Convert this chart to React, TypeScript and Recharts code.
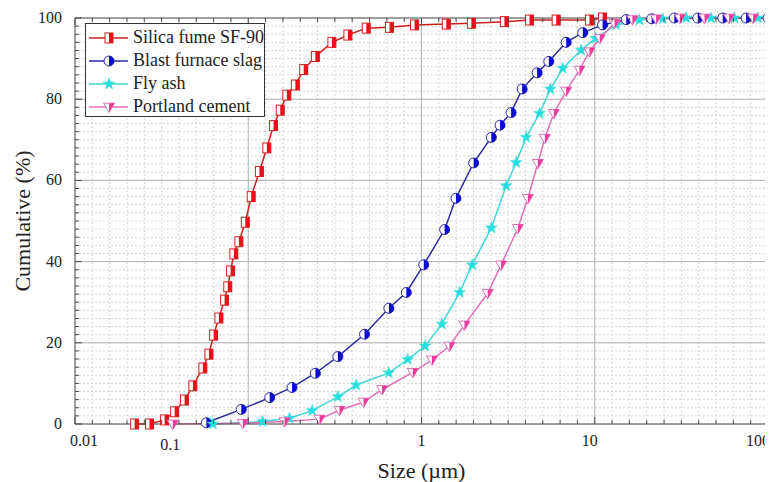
import React from 'react';
import { LineChart, Line, XAxis, YAxis, CartesianGrid, ReferenceLine } from 'recharts';

// Silica fume SF-90
const sfSize = [0.0221, 0.0269, 0.0329, 0.0376, 0.0429, 0.0479, 0.0547, 0.0593, 0.0631, 0.0677, 0.073, 0.0762, 0.0791, 0.0826, 0.0883, 0.0962, 0.104, 0.116, 0.128, 0.14, 0.153, 0.167, 0.187, 0.209, 0.244, 0.304, 0.376, 0.48, 0.654, 0.912, 1.39, 1.94, 3.01, 4.2, 5.99, 9.32, 11.1];
const sfCum = [0, 0, 1.0, 3.0, 5.9, 9.4, 13.8, 17.2, 21.9, 26.1, 30.5, 33.8, 37.7, 41.9, 44.9, 49.7, 56.0, 62.2, 68.0, 73.5, 77.3, 81.0, 83.5, 87.3, 90.5, 94.0, 95.8, 97.5, 97.7, 98.3, 98.5, 98.7, 99.1, 99.5, 99.5, 99.5, 100];

// Blast furnace slag
const slagSize = [0.0573, 0.0911, 0.133, 0.179, 0.244, 0.329, 0.469, 0.648, 0.817, 1.03, 1.36, 1.58, 2.0, 2.53, 2.84, 3.29, 3.81, 4.65, 5.43, 6.84, 8.53, 11.1, 15.2, 21.3, 28.8, 39.3, 54.8, 74.8, 100];
const slagCum = [0.3, 3.6, 6.5, 9.0, 12.5, 16.6, 22.1, 28.5, 32.4, 39.2, 47.9, 55.6, 64.3, 70.6, 73.6, 76.7, 82.5, 86.5, 89.3, 94.0, 96.4, 98.3, 99.6, 99.8, 100, 100, 100, 100, 100];

// Fly ash
const flySize = [0.0625, 0.121, 0.173, 0.234, 0.329, 0.42, 0.648, 0.834, 1.05, 1.31, 1.66, 1.96, 2.53, 3.08, 3.52, 4.02, 4.8, 5.55, 6.53, 8.34, 10.1, 13.3, 18.1, 24.7, 33.7, 46.9, 64.0, 87.3];
const flyCum = [0, 0.6, 1.4, 3.3, 6.7, 9.6, 12.6, 15.9, 19.2, 24.6, 32.4, 39.2, 48.3, 58.7, 64.4, 70.6, 76.5, 82.5, 87.6, 92.1, 95.0, 98.3, 99.5, 99.8, 100, 100, 100, 100];

// Portland cement
const pcSize = [0.0367, 0.0931, 0.162, 0.258, 0.336, 0.463, 0.592, 0.891, 1.15, 1.45, 1.77, 2.41, 2.88, 3.6, 4.11, 4.69, 5.15, 5.8, 6.84, 8.16, 9.32, 10.7, 13.0, 16.5, 22.6, 31.0, 43.0, 59.5, 82.0];
const pcCum = [0, 0.2, 0.6, 1.2, 3.4, 5.4, 8.5, 12.7, 15.8, 19.2, 24.4, 32.2, 39.2, 48.2, 55.6, 64.2, 70.4, 76.5, 82.0, 87.2, 91.7, 95.0, 98.7, 99.6, 99.8, 100, 100, 100, 100];

const xMajor = [0.01, 0.1, 1, 10, 100];
const xLabels = ['0.01', '0.1', '1', '10', '100'];
const yMajor = [0, 20, 40, 60, 80, 100];

// minor ticks sit at even spacing inside each decade, like the original plot
const xTicks: number[] = [];
xMajor.forEach((m, i) => {
  xTicks.push(m);
  if (i < xMajor.length - 1) {
    for (let k = 1; k < 10; k++) xTicks.push(Math.pow(10, Math.log10(m) + k / 10));
  }
});
const yTicks = Array.from({ length: 51 }, (_, i) => i * 2);

const rows = (size: number[], cum: number[]) => size.map((s, i) => ({ size: s, cum: cum[i] }));

const FONT = '"Liberation Serif", "DejaVu Serif", serif';
const FRAME = '#4a4a4a';
const TEXT = '#222';

type Kind = 'square' | 'circle' | 'star' | 'tri';

const series = [
  { name: 'Silica fume SF-90', data: rows(sfSize, sfCum), line: '#cc2020', fill: '#e8101a', kind: 'square' as Kind },
  { name: 'Blast furnace slag', data: rows(slagSize, slagCum), line: '#2a2a9e', fill: '#0a0ad2', kind: 'circle' as Kind },
  { name: 'Fly ash', data: rows(flySize, flyCum), line: '#3fd6d6', fill: '#22e0e0', kind: 'star' as Kind },
  { name: 'Portland cement', data: rows(pcSize, pcCum), line: '#e070b4', fill: '#ec3c9c', kind: 'tri' as Kind },
];

function marker(kind: Kind, cx: number, cy: number, line: string, fill: string, key?: any) {
  if (kind === 'square') {
    const w = 8, h = 10;
    return (
      <g key={key}>
        <rect x={cx - w / 2} y={cy - h / 2} width={w} height={h} fill="#fff" stroke={line} strokeWidth={1} />
        <rect x={cx} y={cy - h / 2} width={w / 2} height={h} fill={fill} />
      </g>
    );
  }
  if (kind === 'circle') {
    const r = 5;
    return (
      <g key={key}>
        <circle cx={cx} cy={cy} r={r} fill="#fff" stroke={line} strokeWidth={1} />
        <path d={`M${cx},${cy - r} A${r},${r} 0 0 1 ${cx},${cy + r} Z`} fill={fill} />
      </g>
    );
  }
  if (kind === 'star') {
    const pts: string[] = [];
    for (let i = 0; i < 10; i++) {
      const r = i % 2 === 0 ? 6 : 2.4;
      const a = -Math.PI / 2 + (i * Math.PI) / 5;
      pts.push(`${cx + r * Math.cos(a)},${cy + r * Math.sin(a)}`);
    }
    return <polygon key={key} points={pts.join(' ')} fill={fill} stroke={line} strokeWidth={0.6} />;
  }
  const s = 5.5;
  return (
    <g key={key}>
      <polygon
        points={`${cx - s},${cy - s * 0.7} ${cx + s},${cy - s * 0.7} ${cx},${cy + s}`}
        fill="#fff" stroke={line} strokeWidth={1}
      />
      <polygon points={`${cx},${cy - s * 0.7} ${cx + s},${cy - s * 0.7} ${cx},${cy + s}`} fill={fill} />
    </g>
  );
}

const dotFor = (kind: Kind, line: string, fill: string) => (p: any) => {
  if (p.cx == null || p.cy == null) return <g key={p.index} />;
  return marker(kind, p.cx, p.cy, line, fill, p.index);
};

const isMajor = (v: number) => xMajor.findIndex(m => Math.abs(m - v) / m < 1e-6);

// the reference prints several labels off their ticks
const labelShift: Record<string, [number, number]> = {
  '0.01': [9, 0], '0.1': [-78, 4], '10': [-5, 0], '100': [-10, 0],
};

const BottomTick = ({ x, y, payload }: any) => {
  const idx = isMajor(payload.value);
  const label = idx >= 0 ? xLabels[idx] : null;
  const [dx, dy] = label && labelShift[label] ? labelShift[label] : [0, 0];
  return (
    <g>
      <line x1={x} x2={x} y1={y} y2={y - (idx >= 0 ? 7 : 4)} stroke={FRAME} />
      {label && (
        <text x={x + dx} y={y + 22 + dy} textAnchor="middle" fontSize={16} fontFamily={FONT} fill={TEXT}>
          {label}
        </text>
      )}
    </g>
  );
};

const TopTick = ({ x, y, payload }: any) => (
  <line x1={x} x2={x} y1={y} y2={y + (isMajor(payload.value) >= 0 ? 7 : 4)} stroke={FRAME} />
);

const LeftTick = ({ x, y, payload }: any) => {
  const major = payload.value % 20 === 0;
  return (
    <g>
      <line x1={x} x2={x + (major ? 7 : 4)} y1={y} y2={y} stroke={FRAME} />
      {major && (
        <text x={x - 13} y={y + 5} textAnchor="end" fontSize={16} fontFamily={FONT} fill={TEXT}>
          {payload.value}
        </text>
      )}
    </g>
  );
};

const RightTick = ({ x, y, payload }: any) => (
  <line x1={x} x2={x - (payload.value % 20 === 0 ? 7 : 4)} y1={y} y2={y} stroke={FRAME} />
);

const LegendBox = () => (
  <div
    style={{
      position: 'absolute', left: 77, top: 15, width: 180, height: 94, boxSizing: 'border-box',
      border: '1px solid #333', background: '#fff', paddingTop: 2, fontFamily: FONT, fontSize: 18, color: TEXT,
    }}
  >
    {series.map(s => (
      <div key={s.name} style={{ display: 'flex', alignItems: 'center', height: 23 }}>
        <svg width={46} height={16} style={{ flex: 'none' }}>
          <line x1={3} x2={42} y1={8} y2={8} stroke={s.line} strokeWidth={1.5} />
          {marker(s.kind, 23, 8, s.line, s.fill)}
        </svg>
        <span style={{ marginLeft: 1, whiteSpace: 'nowrap', lineHeight: '23px', fontFamily: FONT }}>{s.name}</span>
      </div>
    ))}
  </div>
);

export default function App() {
  return (
    <div style={{ position: 'relative', width: 765, height: 474, background: '#fff', fontFamily: FONT }}>
      <LineChart width={765} height={474} margin={{ top: 0, right: 0, bottom: 0, left: 0 }}>
        <CartesianGrid stroke="#d6d6d6" strokeDasharray="2 2" />
        <XAxis
          dataKey="size" type="number" scale="log" domain={[0.01, 100]} allowDataOverflow
          ticks={xTicks} interval={0} height={58} tickSize={0} tickMargin={0}
          tick={BottomTick} tickLine={false} axisLine={{ stroke: FRAME }}
          label={{ value: 'Size (\u00b5m)', position: 'insideBottom', offset: 4, fontSize: 22, fontFamily: FONT, fill: TEXT }}
        />
        <XAxis
          xAxisId="top" orientation="top" dataKey="size" type="number" scale="log" domain={[0.01, 100]}
          allowDataOverflow ticks={xTicks} interval={0} height={10} tickSize={0} tickMargin={0}
          tick={TopTick} tickLine={false} axisLine={{ stroke: FRAME }}
        />
        <YAxis
          type="number" domain={[0, 100]} ticks={yTicks} interval={0} width={67} tickSize={0} tickMargin={0}
          tick={LeftTick} tickLine={false} axisLine={{ stroke: FRAME }}
          label={{ value: 'Cumulative (%)', angle: -90, position: 'insideLeft', offset: 14, fontSize: 22, fontFamily: FONT, fill: TEXT, style: { textAnchor: 'middle' } }}
        />
        <YAxis
          yAxisId="right" orientation="right" type="number" domain={[0, 100]} ticks={yTicks} interval={0}
          width={5} tickSize={0} tickMargin={0} tick={RightTick} tickLine={false} axisLine={{ stroke: FRAME }}
        />
        {xMajor.slice(1, -1).map(v => (
          <ReferenceLine key={'x' + v} x={v} stroke="#b4b4b4" strokeWidth={1} />
        ))}
        {yMajor.slice(1, -1).map(v => (
          <ReferenceLine key={'y' + v} y={v} stroke="#b4b4b4" strokeWidth={1} />
        ))}
        {series.map(s => (
          <Line
            key={s.name} data={s.data} dataKey="cum" name={s.name} type="linear"
            stroke={s.line} strokeWidth={1.5} dot={dotFor(s.kind, s.line, s.fill)}
            activeDot={false} isAnimationActive={false}
          />
        ))}
      </LineChart>
      <LegendBox />
    </div>
  );
}
